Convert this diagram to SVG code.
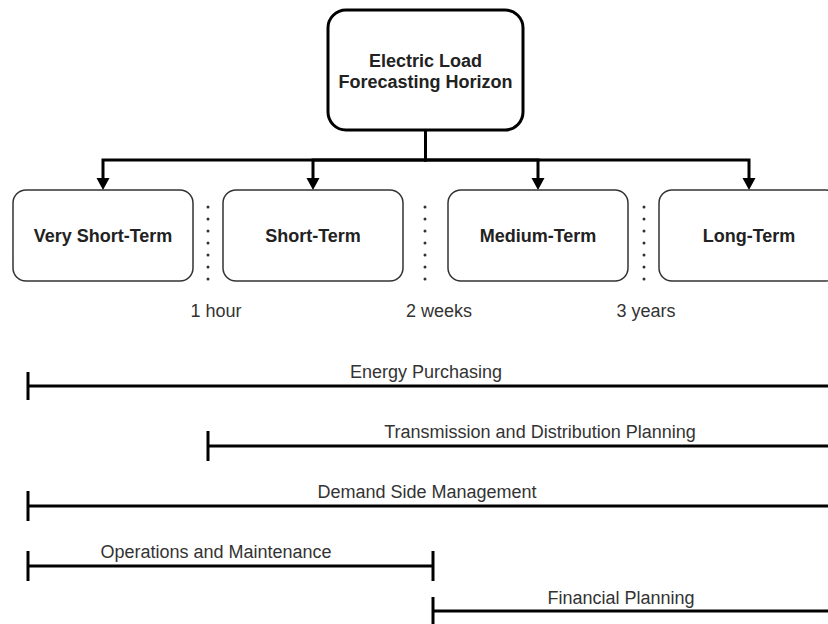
<svg xmlns="http://www.w3.org/2000/svg" width="828" height="624" viewBox="0 0 828 624">
  <style>
    .bold { font-family: "Liberation Sans", Arial, sans-serif; font-size: 18px; font-weight: bold; fill: #222; text-anchor: middle; }
    .lbl { font-family: "Liberation Sans", Arial, sans-serif; font-size: 18px; fill: #333; text-anchor: middle; }
    .term { fill: #fff; stroke: #333; stroke-width: 1.5; }
    .root { fill: #fff; stroke: #000; stroke-width: 3; }
    .edge { fill: none; stroke: #000; stroke-width: 3; }
    .dots { stroke: #333; stroke-width: 3; stroke-linecap: round; stroke-dasharray: 0 12; }
    .bar { stroke: #000; stroke-width: 3; fill: none; }
  </style>
  <defs>
    <marker id="arrow" markerUnits="userSpaceOnUse" markerWidth="14" markerHeight="14" viewBox="0 0 14 14" refX="0" refY="7" orient="auto">
      <path d="M0,0.5 L12,7 L0,13.5 Z" fill="#000"/>
    </marker>
  </defs>

  <rect width="828" height="624" fill="#fff"/>

  <!-- connectors from the root to each horizon -->
  <g id="connectors">
    <path class="edge" d="M425.5 130 V160 H103 V178" marker-end="url(#arrow)"/>
    <path class="edge" d="M425.5 130 V160 H313 V178" marker-end="url(#arrow)"/>
    <path class="edge" d="M425.5 130 V160 H538 V178" marker-end="url(#arrow)"/>
    <path class="edge" d="M425.5 130 V160 H749 V178" marker-end="url(#arrow)"/>
  </g>

  <g id="root">
    <rect class="root" x="328" y="10" width="195" height="120" rx="18"/>
    <text class="bold" x="425.5" y="67">Electric Load</text>
    <text class="bold" x="425.5" y="88">Forecasting Horizon</text>
  </g>

  <g id="very-short-term">
    <rect class="term" x="13" y="190" width="180" height="91" rx="13"/>
    <text class="bold" x="103" y="242">Very Short-Term</text>
  </g>
  <g id="short-term">
    <rect class="term" x="223" y="190" width="180" height="91" rx="13"/>
    <text class="bold" x="313" y="242">Short-Term</text>
  </g>
  <g id="medium-term">
    <rect class="term" x="448" y="190" width="180" height="91" rx="13"/>
    <text class="bold" x="538" y="242">Medium-Term</text>
  </g>
  <g id="long-term">
    <rect class="term" x="659" y="190" width="180" height="91" rx="13"/>
    <text class="bold" x="749" y="242">Long-Term</text>
  </g>

  <!-- boundaries between horizons -->
  <g id="boundaries">
    <line class="dots" x1="208" y1="207" x2="208" y2="280"/>
    <line class="dots" x1="425" y1="207" x2="425" y2="280"/>
    <line class="dots" x1="644" y1="207" x2="644" y2="280"/>
    <text class="lbl" x="216" y="317">1 hour</text>
    <text class="lbl" x="439" y="317">2 weeks</text>
    <text class="lbl" x="646" y="317">3 years</text>
  </g>

  <!-- application spans -->
  <g id="energy-purchasing">
    <path class="bar" d="M28 372 V400 M28 386 H828"/>
    <text class="lbl" x="426" y="378">Energy Purchasing</text>
  </g>
  <g id="transmission-planning">
    <path class="bar" d="M208 431 V461 M208 446 H828"/>
    <text class="lbl" x="540" y="438">Transmission and Distribution Planning</text>
  </g>
  <g id="demand-side-management">
    <path class="bar" d="M28 491 V521 M28 506 H828"/>
    <text class="lbl" x="427" y="498">Demand Side Management</text>
  </g>
  <g id="operations-maintenance">
    <path class="bar" d="M28 551 V581 M433 551 V581 M28 566 H433"/>
    <text class="lbl" x="216" y="558">Operations and Maintenance</text>
  </g>
  <g id="financial-planning">
    <path class="bar" d="M433 597 V630 M433 611 H828"/>
    <text class="lbl" x="621" y="604">Financial Planning</text>
  </g>
</svg>
